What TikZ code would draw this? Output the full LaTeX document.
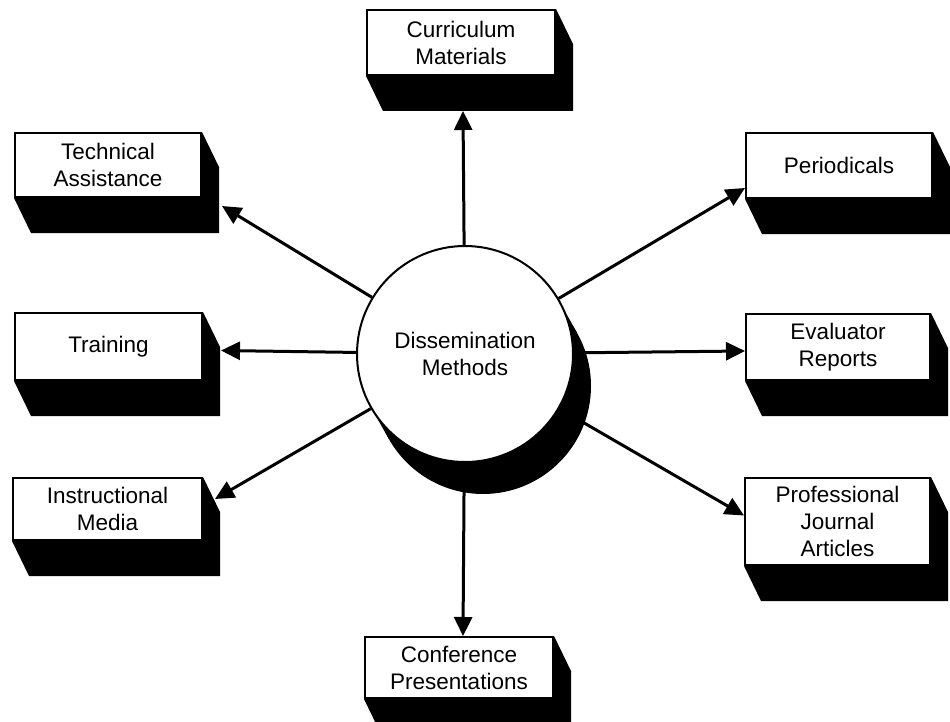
\documentclass[tikz,border=0pt]{standalone}
\usepackage{fontspec}
\setmainfont{Liberation Sans}
\usetikzlibrary{arrows.meta,calc}

% depth of the raised boxes and of the disc
\newcommand{\depthx}{17}
\newcommand{\depthy}{35}
% black side faces below and to the right of a box
\newcommand{\sideface}[1]{%
  \fill[black] (#1.north east) -- ++(\depthx,\depthy)
    -- ($(#1.south east)+(\depthx,\depthy)$)
    -- ($(#1.south west)+(\depthx,\depthy)$)
    -- (#1.south west) -- (#1.south east) -- cycle;}

\begin{document}
\begin{tikzpicture}[x=1pt,y=-1pt,
  every node/.style={font=\fontsize{22.5}{27}\selectfont},
  card/.style={draw=black,line width=2pt,fill=white,rectangle,
    inner sep=0pt,align=center},
  hub/.style={draw=black,line width=2pt,fill=white,circle,
    minimum size=216pt,inner sep=0pt,align=center},
  arr/.style={line width=3pt,-{Triangle[length=19pt,width=18pt]}}]

\useasboundingbox (0,0) rectangle (950,722);

% central disc with its black rim
\coordinate (c) at (465,354);
\fill[black] ($(c)+(18,32)$) circle[radius=108];
\fill[black] ($(c)+(94.2,-52.9)$) -- ($(c)+(112.2,-20.9)$)
  -- ($(c)+(-76.2,84.9)$) -- ($(c)+(-94.2,52.9)$) -- cycle;
\node[hub] (dm) at (c) {Dissemination\\Methods};

% outer boxes
\node[card,minimum width=188pt,minimum height=65pt] (curr) at (461,42.5) {Curriculum\\Materials};
\node[card,minimum width=186pt,minimum height=64pt] (tech) at (108,165) {Technical\\Assistance};
\node[card,minimum width=187pt,minimum height=67pt] (train) at (108.5,346.5) {Training};
\node[card,minimum width=189pt,minimum height=62pt] (instr) at (107.5,509) {Instructional\\Media};
\node[card,minimum width=186pt,minimum height=65pt] (peri) at (839,165.5) {Periodicals};
\node[card,minimum width=184pt,minimum height=66pt] (eval) at (838,347) {Evaluator\\Reports};
\node[card,minimum width=185pt,minimum height=87pt] (prof) at (837.5,521.5) {Professional\\Journal\\Articles};
\node[card,minimum width=188pt,minimum height=61pt] (conf) at (459,667.5) {Conference\\Presentations};

\sideface{curr}\sideface{tech}\sideface{train}\sideface{instr}
\sideface{peri}\sideface{eval}\sideface{prof}\sideface{conf}

% arrows out of the disc
\draw[arr] (dm) -- ($(curr.south)+(2,\depthy)$);
\draw[arr] (dm) -- ($(tech.south east)+(20,8)$);
\draw[arr] (dm) -- ($(train.north east)+(18,38.5)$);
\draw[arr] (dm) -- ($(instr.north east)+(12,22)$);
\draw[arr] (dm) -- ($(peri.south west)+(0,-11)$);
\draw[arr] (dm) -- ($(eval.north west)+(0,38)$);
\draw[arr] (dm) -- ($(prof.west)+(0,-6)$);
\draw[arr] (dm) -- ($(conf.north)+(4,0)$);
\end{tikzpicture}
\end{document}
